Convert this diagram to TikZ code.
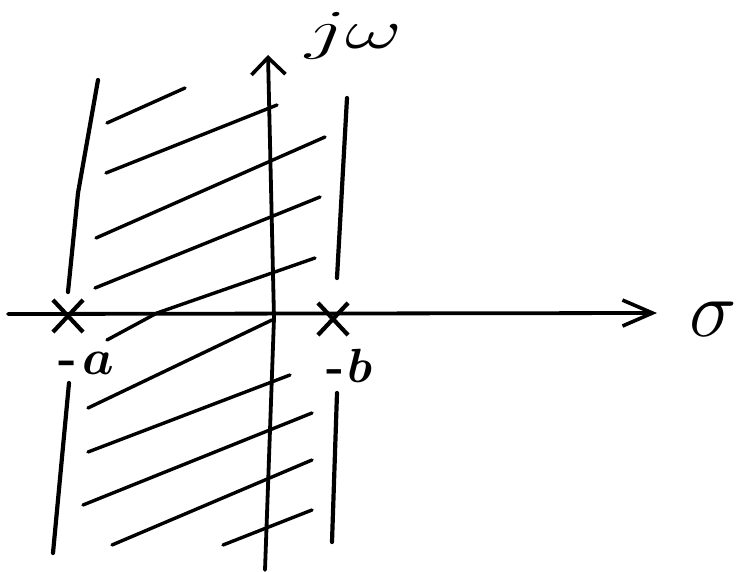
\RequirePackage{fix-cm}
\documentclass[tikz,border=0pt]{standalone}
\usetikzlibrary{arrows.meta,shapes.misc}

\begin{document}
\begin{tikzpicture}[
  x=1pt, y=-1pt,
  axisline/.style={line width=3.8pt, line cap=round},
  stripline/.style={line width=4.2pt, line cap=round},
  hatchline/.style={line width=3.4pt, line cap=round},
  polemark/.style={draw, cross out, line width=4.2pt, minimum width=26pt, minimum height=28pt, inner sep=0pt},
  axislabel/.style={inner sep=0pt, anchor=base west}
]
\useasboundingbox (0,0) rectangle (737,572);

\coordinate (sigmaL) at (8,314);
\coordinate (sigmaR) at (657,313);
\coordinate (omegaB) at (265,570);
\coordinate (omegaM) at (274,318);
\coordinate (omegaT) at (268,55);

\draw[axisline, -{Straight Barb[length=30pt, width=26pt, line width=3.6pt]}] (sigmaL) -- (sigmaR);
\draw[axisline, -{Straight Barb[length=17pt, width=34pt, line width=3.6pt]}] (omegaB) -- (omegaM) -- (omegaT);

\draw[stripline] (98,80) -- (78,193) -- (68,292);
\draw[stripline] (69,383) -- (53,553);
\draw[stripline] (347,98) -- (337,278);
\draw[stripline] (337,393) -- (332,542);

\draw[hatchline] (107,123) -- (185,88);
\draw[hatchline] (106,173) -- (277,105);
\draw[hatchline] (96,238) -- (325,137);
\draw[hatchline] (95,288) -- (320,197);
\draw[hatchline] (107,340) -- (157,313) -- (315,258);
\draw[hatchline] (88,408) -- (272,320);
\draw[hatchline] (88,452) -- (290,375);
\draw[hatchline] (83,505) -- (312,413);
\draw[hatchline] (112,545) -- (312,460);
\draw[hatchline] (223,545) -- (312,510);

\node[polemark] (polea) at (68,316) {};
\node[polemark] (poleb) at (333,319) {};

\node[axislabel, font=\fontsize{50pt}{50pt}\selectfont\bfseries\boldmath] (labela) at (58,374) {-\kern6pt$a$};
\node[axislabel, font=\fontsize{48pt}{48pt}\selectfont\bfseries\boldmath] (labelb) at (326,382) {-\kern3pt$b$};
\node[axislabel, font=\fontsize{55pt}{55pt}\selectfont] (labeljw) at (305,49) {\scalebox{1.6}[1]{$j\omega$}};
\node[axislabel, font=\fontsize{80pt}{80pt}\selectfont] (labelsigma) at (689,337) {$\sigma$};
\end{tikzpicture}
\end{document}
